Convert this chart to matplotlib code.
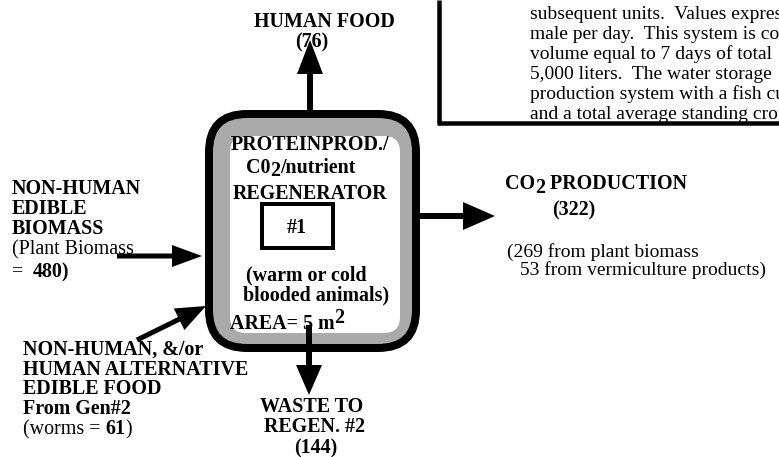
import matplotlib
matplotlib.use("Agg")
import matplotlib.pyplot as plt
from matplotlib.patches import FancyBboxPatch, Rectangle, FancyArrow

# ---- data (flows, in g per day) ----
human_food = 76
plant_biomass = 480
worms = 61
waste = 144
co2_total = 322
co2_plant = 269
co2_vermi = 53
area_m2 = 5

note_lines = [
    "subsequent units.  Values expressed",
    "male per day.  This system is composed",
    "volume equal to 7 days of total",
    "5,000 liters.  The water storage",
    "production system with a fish culture",
    "and a total average standing crop",
]

FAM = ["Liberation Serif", "DejaVu Serif"]
FS = 14.4
W, H = 779, 457

fig = plt.figure(figsize=(W / 100, H / 100), dpi=100)
ax = fig.add_axes([0, 0, 1, 1])
ax.set_xlim(0, W)
ax.set_ylim(H, 0)
ax.axis("off")

PX = 0.72  # points per pixel


def txt(x, y, s, bold=True, ha="left", size=FS, **kw):
    return ax.text(x, y + 7, s, ha=ha, va="baseline", family=FAM,
                   fontweight="bold" if bold else "normal", fontsize=size,
                   color="black", **kw)


def parts(x, y, items, size=FS):
    """items: list of (string, bold, dy)"""
    fig.canvas.draw()
    r = fig.canvas.get_renderer()
    inv = ax.transData.inverted()
    cx = x
    for s, b, dy in items:
        t = txt(cx, y + dy, s, bold=b, size=size, zorder=6)
        bb = t.get_window_extent(r)
        cx = inv.transform((bb.x1, bb.y0))[0]


# ---- note box (top right) ----
ax.plot([439, 439], [0, 123], color="black", lw=4.5 * PX, solid_capstyle="butt")
ax.plot([437, W + 5], [123, 123], color="black", lw=4.5 * PX, solid_capstyle="butt")
for i, line in enumerate(note_lines):
    ax.text(530, 13 + 20 * i + 6, line, ha="left", va="baseline", family=FAM,
            fontsize=14, color="black")

# ---- central unit ----
outer = FancyBboxPatch((209, 114), 207, 234,
                       boxstyle="round,pad=0,rounding_size=38",
                       fc="#aaaaaa", ec="black", lw=8 * PX, zorder=2)
ax.add_patch(outer)
inner = FancyBboxPatch((230, 136), 170, 197,
                       boxstyle="round,pad=0,rounding_size=16",
                       fc="white", ec="none", zorder=3)
ax.add_patch(inner)
ax.add_patch(Rectangle((262, 204), 71, 44, fc="white", ec="black",
                       lw=4 * PX, zorder=4))

z6 = dict(zorder=6)
txt(310, 143, "PROTEINPROD./", ha="center", **z6)
parts(246, 166, [("C0", True, 0), ("2", True, 3), ("/nutrient", True, 0)])
txt(310, 192, "REGENERATOR", ha="center", **z6)
txt(297, 226, "#1", ha="center", **z6)
txt(306, 273, "(warm or cold", ha="center", **z6)
txt(316, 293, "blooded animals)", ha="center", **z6)
parts(230, 322, [("AREA= ", True, 0), (f"{area_m2} m", True, 0), ("2", True, -6)])

# ---- arrows ----
def arrow(x0, y0, x1, y1, w, hw, hl):
    ax.add_patch(FancyArrow(x0, y0, x1 - x0, y1 - y0, width=w, head_width=hw,
                            head_length=hl, length_includes_head=True,
                            fc="black", ec="black", lw=0, zorder=5))

arrow(310, 112, 310, 40, 6, 26, 34)     # human food
arrow(309, 325, 309, 395, 6, 26, 30)    # waste
arrow(417, 216, 495, 216, 6, 28, 32)    # CO2
arrow(117, 256, 202, 256, 5, 22, 30)    # plant biomass
arrow(137, 340, 206, 306, 5, 24, 30)    # worms

# ---- labels ----
txt(324, 20, "HUMAN FOOD", ha="center")
txt(312, 40, f"({human_food})", ha="center", zorder=7)

for i, s in enumerate(["NON-HUMAN", "EDIBLE", "BIOMASS"]):
    txt(12, 187 + 20 * i, s)
txt(12, 247, "(Plant Biomass", bold=False)
parts(12, 270, [("=  ", False, 0), (f"{plant_biomass})", True, 0)])

for i, s in enumerate(["NON-HUMAN, &/or", "HUMAN ALTERNATIVE",
                       "EDIBLE FOOD", "From Gen#2"]):
    txt(23, 348 + 19.7 * i, s)
parts(23, 427, [("(worms = ", False, 0), (f"{worms}", True, 0), (")", False, 0)])

txt(312, 405, "WASTE TO", ha="center")
txt(315, 425, "REGEN. #2", ha="center")
txt(316, 446, f"({waste})", ha="center")

parts(505, 182, [("CO", True, 0), ("2", True, 4), (" PRODUCTION", True, 0)])
txt(552, 208, f"({co2_total})")
txt(507, 250, f"({co2_plant} from plant biomass", bold=False, size=14)
txt(520, 268, f"{co2_vermi} from vermiculture products)", bold=False, size=14)

fig.savefig("out.png", dpi=100, facecolor="white")
